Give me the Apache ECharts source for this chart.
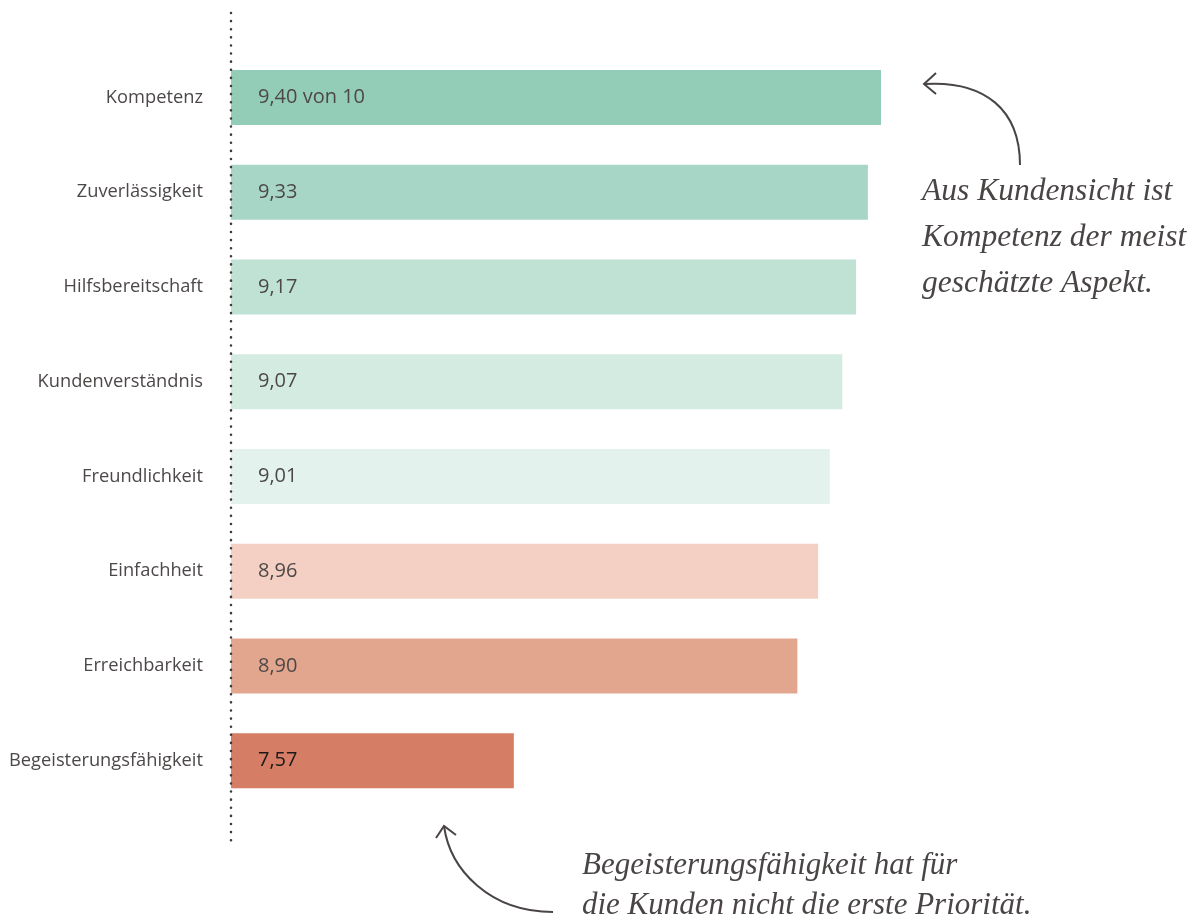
<!DOCTYPE html>
<html>
<head>
<meta charset="utf-8">
<script src="https://cdn.jsdelivr.net/npm/echarts@6/dist/echarts.min.js"></script>
<style>
  html, body { margin: 0; padding: 0; background: #fff; }
  #chart { width: 1200px; height: 920px; }
</style>
</head>
<body>
<div id="chart"></div>
<script>
// Kategorien, von oben nach unten
const categories = ['Kompetenz', 'Zuverlässigkeit', 'Hilfsbereitschaft', 'Kundenverständnis',
  'Freundlichkeit', 'Einfachheit', 'Erreichbarkeit', 'Begeisterungsfähigkeit']
// Bewertungen (Beschriftung)
const scores = [9.40, 9.33, 9.17, 9.07, 9.01, 8.96, 8.90, 7.57]
// Balkenlängen wie in der Grafik gezeichnet (auf Skala 0-10, nicht proportional zu den Werten)
const barLength = [9.40, 9.21, 9.04, 8.84, 8.66, 8.49, 8.19, 4.09]
const barColors = ['#93CDB8', '#A8D6C6', '#BFE2D5', '#D4EBE2', '#E3F2ED', '#F3D0C3', '#E2A58E', '#D57D65']
const labelColors = ['#4d4848', '#4d4848', '#4d4848', '#4d4848', '#4d4848', '#4d4848', '#4d4848', '#1a1a1a']

const noteTop = ['Aus Kundensicht ist', 'Kompetenz der meist', 'geschätzte Aspekt.']
const noteBottom = ['Begeisterungsfähigkeit hat für', 'die Kunden nicht die erste Priorität.']

const sans = '"Open Sans", Lato, sans-serif'
const serif = '"Liberation Serif", "DejaVu Serif", serif'
const ink = '#4a4545'

function fmt (v) {
  return v.toFixed(2).replace('.', ',')
}

let dom = document.getElementById('chart')
let myChart = echarts.init(dom)

let barData = barLength.map((v, i) => ({
  value: v,
  itemStyle: { color: barColors[i] },
  label: { color: labelColors[i] }
}))

let graphics = [
  // gepunktete Achse
  {
    type: 'line',
    shape: { x1: 231, y1: 13, x2: 231, y2: 843 },
    style: { stroke: '#3f3b3b', lineWidth: 2.6, lineDash: [0.01, 8.1], lineCap: 'round' },
    z: 10
  },
  // Pfeil oben
  {
    type: 'bezierCurve',
    shape: { x1: 1020, y1: 165, cpx1: 1020, cpy1: 110, cpx2: 985, cpy2: 80, x2: 924, y2: 84 },
    style: { stroke: ink, lineWidth: 2, fill: null }
  },
  {
    type: 'polyline',
    shape: { points: [[936, 73], [924, 84], [936, 94]] },
    style: { stroke: ink, lineWidth: 2, fill: null }
  },
  // Pfeil unten
  {
    type: 'bezierCurve',
    shape: { x1: 553, y1: 912, cpx1: 490, cpy1: 912, cpx2: 450, cpy2: 870, x2: 444, y2: 826 },
    style: { stroke: ink, lineWidth: 2, fill: null }
  },
  {
    type: 'polyline',
    shape: { points: [[436, 838], [444, 826], [456, 835]] },
    style: { stroke: ink, lineWidth: 2, fill: null }
  }
]

noteTop.forEach((t, i) => {
  graphics.push({
    type: 'text',
    x: 922, y: 192 + i * 46,
    style: { text: t, font: 'italic 31.5px ' + serif, fill: ink, textVerticalAlign: 'middle' }
  })
})
noteBottom.forEach((t, i) => {
  graphics.push({
    type: 'text',
    x: 582, y: 866 + i * 40,
    style: { text: t, font: 'italic 31px ' + serif, fill: ink, textVerticalAlign: 'middle' }
  })
})

let option = {
  backgroundColor: '#fff',
  animation: false,
  grid: { left: 231, right: 277.5, top: 50, bottom: 112 },
  xAxis: {
    type: 'value',
    min: 0,
    max: 10,
    show: false
  },
  yAxis: {
    type: 'category',
    data: categories,
    inverse: true,
    axisLine: { show: false },
    axisTick: { show: false },
    axisLabel: {
      margin: 28,
      fontFamily: sans,
      fontSize: 18.3,
      color: '#4d4848'
    }
  },
  series: [{
    type: 'bar',
    data: barData,
    barWidth: 55,
    label: {
      show: true,
      position: 'insideLeft',
      distance: 27,
      fontFamily: sans,
      fontSize: 20,
      formatter: function (p) {
        let s = fmt(scores[p.dataIndex])
        return p.dataIndex === 0 ? s + ' von 10' : s
      }
    }
  }],
  graphic: graphics
}

myChart.setOption(option)
</script>
</body>
</html>
